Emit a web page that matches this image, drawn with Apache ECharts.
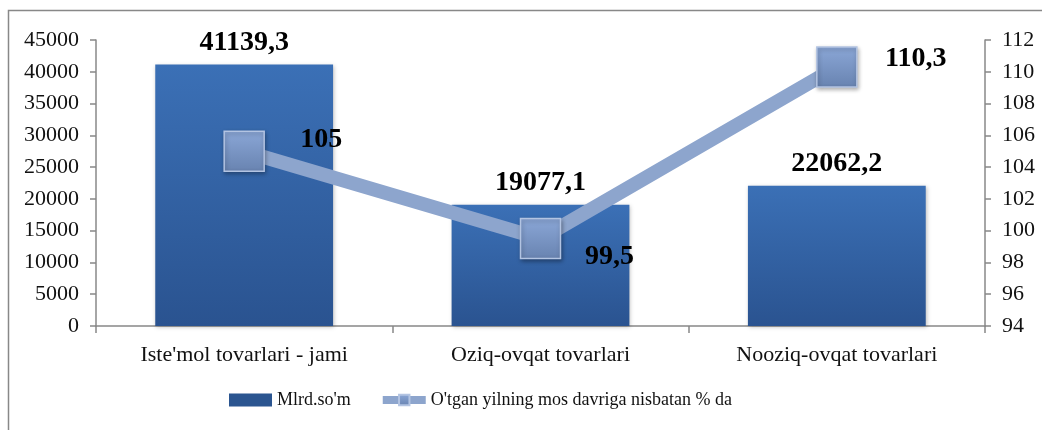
<!DOCTYPE html>
<html>
<head>
<meta charset="utf-8">
<script src="https://cdn.jsdelivr.net/npm/echarts@6/dist/echarts.min.js"></script>
<style>
  html, body { margin: 0; padding: 0; background: #fff; }
  #chart { width: 1042px; height: 430px; }
</style>
</head>
<body>
<div id="chart"></div>
<script>
"use strict";
const categories = ["Iste'mol tovarlari - jami", "Oziq-ovqat tovarlari", "Nooziq-ovqat tovarlari"];
const volume = [41139.3, 19077.1, 22062.2];
const percent = [105, 99.5, 110.3];
const leftTicks = { min: 0, max: 45000, interval: 5000 };
const rightTicks = { min: 94, max: 112, interval: 2 };
const seriesNames = ["Mlrd.so'm", "O'tgan yilning mos davriga nisbatan % da"];

const fmt = (v) => String(v).replace(".", ",");
const serif = "'Liberation Serif', 'DejaVu Serif', serif";
// label offsets for the line points (relative to marker centre)
const lineOffsets = [[77, -11], [69, 18], [79, -8]];

const myChart = echarts.init(document.getElementById("chart"));
const axisLabel = { fontFamily: serif, fontSize: 22, color: "#111", margin: 17, formatter: (v) => String(v) };
const option = {
  animation: false,
  textStyle: { fontFamily: serif },
  graphic: [{
    type: "rect",
    shape: { x: 8.5, y: 10.5, width: 1100, height: 500 },
    style: { fill: "none", stroke: "#888", lineWidth: 1.5 },
    silent: true
  }],
  grid: { left: 96, right: 57, top: 40, bottom: 104 },
  legend: {
    top: 391,
    left: 229,
    padding: 0,
    itemGap: 28,
    itemWidth: 43,
    itemHeight: 13,
    textStyle: { fontFamily: serif, fontSize: 18, color: "#111" },
    data: [
      { name: seriesNames[0], icon: "rect", itemStyle: { color: "#2b5590" } },
      { name: seriesNames[1], lineStyle: { width: 8, color: "#8da5cd" } }
    ]
  },
  xAxis: {
    type: "category",
    data: categories,
    axisLine: { lineStyle: { color: "#888", width: 1.5 } },
    axisTick: { show: true, length: 7, lineStyle: { color: "#888", width: 1.5 } },
    axisLabel: { fontFamily: serif, fontSize: 22, color: "#111", margin: 18 }
  },
  yAxis: [
    {
      type: "value",
      min: leftTicks.min, max: leftTicks.max, interval: leftTicks.interval,
      splitLine: { show: false },
      axisLine: { show: true, lineStyle: { color: "#888", width: 1.5 } },
      axisTick: { show: true, length: 6, lineStyle: { color: "#888", width: 1.5 } },
      axisLabel: axisLabel
    },
    {
      type: "value",
      min: rightTicks.min, max: rightTicks.max, interval: rightTicks.interval,
      splitLine: { show: false },
      axisLine: { show: true, lineStyle: { color: "#888", width: 1.5 } },
      axisTick: { show: true, length: 6, lineStyle: { color: "#888", width: 1.5 } },
      axisLabel: axisLabel
    }
  ],
  series: [
    {
      name: seriesNames[0],
      type: "bar",
      yAxisIndex: 0,
      barWidth: "60%",
      data: volume,
      itemStyle: {
        color: new echarts.graphic.LinearGradient(0, 0, 0, 1, [
          { offset: 0, color: "#3b70b6" },
          { offset: 1, color: "#2a5390" }
        ]),
        shadowColor: "rgba(0,0,0,0.25)",
        shadowBlur: 4,
        shadowOffsetX: 1,
        shadowOffsetY: 1
      },
      label: {
        show: true,
        position: "top",
        distance: 8,
        formatter: (p) => fmt(p.value),
        fontFamily: serif,
        fontSize: 28,
        fontWeight: "bold",
        color: "#000"
      }
    },
    {
      name: seriesNames[1],
      type: "line",
      yAxisIndex: 1,
      data: percent.map((v, i) => ({
        value: v,
        label: { offset: lineOffsets[i] }
      })),
      symbol: "rect",
      symbolSize: 40,
      lineStyle: { color: "#8da5cd", width: 14 },
      itemStyle: {
        color: new echarts.graphic.LinearGradient(0, 0, 0, 1, [
          { offset: 0, color: "#8ba7d7" },
          { offset: 1, color: "#6883b0" }
        ]),
        borderColor: "#b3c4e2",
        borderWidth: 1.5,
        shadowColor: "rgba(0,0,0,0.3)",
        shadowBlur: 4,
        shadowOffsetX: 1,
        shadowOffsetY: 2
      },
      label: {
        show: true,
        position: "inside",
        formatter: (p) => fmt(p.value),
        fontFamily: serif,
        fontSize: 28,
        fontWeight: "bold",
        color: "#000"
      },
      z: 3
    }
  ]
};
myChart.setOption(option);
</script>
</body>
</html>
